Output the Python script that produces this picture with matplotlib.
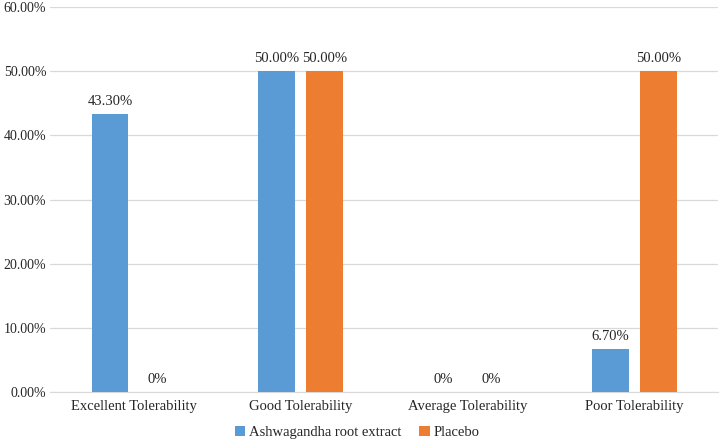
import matplotlib.pyplot as plt
import numpy as np

plt.rcParams['font.family'] = ['Liberation Serif', 'DejaVu Serif']

categories = ['Excellent Tolerability', 'Good Tolerability',
              'Average Tolerability', 'Poor Tolerability']
ashwagandha = [43.3, 50.0, 0.0, 6.7]
placebo = [0.0, 50.0, 0.0, 50.0]
series_names = ['Ashwagandha root extract', 'Placebo']
yticks = [0, 10, 20, 30, 40, 50, 60]


def fmt(v):
    return '0%' if v == 0 else '%.2f%%' % v


fig = plt.figure(figsize=(7.2, 4.41), dpi=100)
ax = fig.add_axes([0.070, 0.111, 0.927, 0.873])

x = np.arange(len(categories))
w = 0.22
off = 0.143
txt = '#262626'
b1 = ax.bar(x - off, ashwagandha, w, color='#5B9BD5', label=series_names[0], zorder=3)
b2 = ax.bar(x + off, placebo, w, color='#ED7D31', label=series_names[1], zorder=3)

for bars, vals in ((b1, ashwagandha), (b2, placebo)):
    for b, v in zip(bars, vals):
        ax.text(b.get_x() + b.get_width() / 2, v + 1.0, fmt(v),
                ha='center', va='bottom', fontsize=10.5, color=txt)

ax.set_xlim(-0.5, len(categories) - 0.5)
ax.set_ylim(0, 60)
ax.set_yticks(yticks)
ax.set_yticklabels(['%.2f%%' % t for t in yticks])
ax.set_xticks(x)
ax.set_xticklabels(categories)
ax.tick_params(axis='both', length=0, labelsize=10.5, labelcolor=txt)
ax.tick_params(axis='y', pad=3, labelsize=10)
ax.tick_params(axis='x', pad=6)

ax.yaxis.grid(True, color='#D9D9D9', linewidth=0.9, zorder=0)
for s in ['top', 'right', 'left']:
    ax.spines[s].set_visible(False)
ax.spines['bottom'].set_color('#D9D9D9')

ax.legend(loc='center', bbox_to_anchor=(0.46, -0.106), ncol=2, frameon=False,
          fontsize=10.5, handlelength=0.7, handleheight=0.7, handletextpad=0.3,
          columnspacing=1.2, labelcolor=txt, borderpad=0.1)

fig.savefig('out.png', dpi=100)
